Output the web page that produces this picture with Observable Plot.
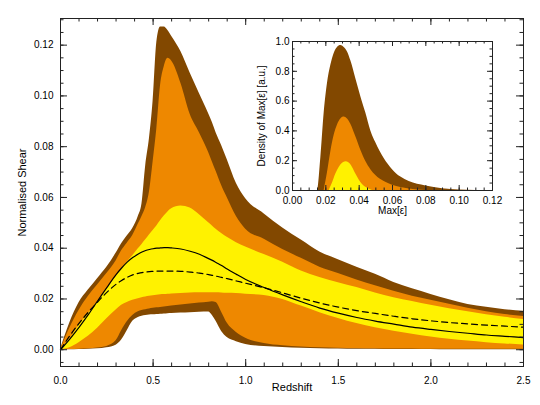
<!DOCTYPE html>
<html><head><meta charset="utf-8">
<script src="https://cdn.jsdelivr.net/npm/d3@7"></script>
<script src="https://cdn.jsdelivr.net/npm/@observablehq/plot@0.6"></script>
<style>
body{margin:0;background:#fff}
#wrap{position:relative;width:540px;height:405px}
#wrap svg{position:absolute;overflow:visible}
</style></head>
<body><div id="wrap"></div>
<script>
// ---- main panel data: redshift grid and band boundaries (normalised shear) ----
const redshift = [0,0.05,0.1,0.15,0.2,0.25,0.3,0.33,0.36,0.39,0.42,0.44,0.46,0.48,0.5,0.52,0.54,0.56,0.58,0.6,0.65,0.7,0.75,0.8,0.82,0.84,0.87,0.9,0.95,1.0,1.1,1.2,1.3,1.4,1.5,1.6,1.7,1.8,1.9,2.0,2.1,2.2,2.3,2.4,2.5];
const brownHi = [0,0.0105,0.0185,0.0235,0.028,0.0325,0.038,0.0418,0.0448,0.0478,0.0525,0.0575,0.0725,0.083,0.098,0.121,0.1272,0.1272,0.1258,0.1235,0.1175,0.109,0.101,0.093,0.0895,0.0855,0.0805,0.075,0.0655,0.0595,0.0535,0.048,0.0432,0.0385,0.0355,0.0325,0.0297,0.0265,0.024,0.0218,0.0197,0.0178,0.0167,0.0158,0.0152];
const orangeHi = [0,0.0085,0.0155,0.021,0.0255,0.030,0.035,0.039,0.042,0.045,0.0495,0.0525,0.056,0.062,0.074,0.087,0.104,0.1115,0.1148,0.1138,0.105,0.0928,0.0855,0.0777,0.074,0.0703,0.0647,0.060,0.0525,0.0475,0.0435,0.0395,0.036,0.0325,0.030,0.0275,0.0252,0.023,0.0211,0.0195,0.0179,0.0163,0.015,0.0139,0.0131];
const yellowHi = [0,0.0042,0.0095,0.0142,0.0188,0.0238,0.0288,0.0318,0.0345,0.037,0.0398,0.0415,0.0433,0.0452,0.047,0.0488,0.0508,0.0527,0.0543,0.0555,0.0566,0.0558,0.0532,0.050,0.0488,0.0475,0.0458,0.0443,0.0422,0.0405,0.0375,0.0345,0.031,0.0285,0.0264,0.0245,0.0224,0.0205,0.019,0.0175,0.0162,0.015,0.0138,0.0128,0.0119];
const yellowLo = [0,0.0008,0.0028,0.0053,0.0085,0.0122,0.0157,0.0175,0.0186,0.0195,0.0201,0.0205,0.0208,0.0211,0.0213,0.0215,0.0217,0.0218,0.0219,0.022,0.0222,0.0224,0.0225,0.0225,0.0225,0.0225,0.0224,0.0223,0.0222,0.0219,0.0214,0.0198,0.0172,0.0146,0.0123,0.0103,0.0087,0.0073,0.0061,0.005,0.0041,0.0034,0.0028,0.0023,0.0019];
const orangeLo = [0,0.0001,0.0002,0.0004,0.0007,0.0013,0.0035,0.0075,0.011,0.0135,0.015,0.0155,0.0158,0.0161,0.0163,0.0165,0.0166,0.0168,0.017,0.0172,0.0176,0.018,0.0184,0.0187,0.0189,0.0186,0.0148,0.0105,0.0068,0.0045,0.0025,0.0016,0.0011,0.0008,0.0006,0.0005,0.0004,0.0003,0.0003,0.0002,0.0002,0.0002,0.0002,0.0002,0.0002];
const brownLo = [0,0,0.0001,0.0002,0.0004,0.0008,0.0018,0.0038,0.0075,0.0112,0.0127,0.0132,0.0135,0.0137,0.0138,0.0139,0.014,0.0141,0.0142,0.0143,0.0145,0.0146,0.0148,0.0149,0.0135,0.0112,0.0072,0.0048,0.0032,0.0021,0.0013,0.0009,0.0006,0.0004,0.0003,0.0002,0.0002,0.0001,0.0001,0.0001,0,0,0,0,0];
const solidLine = [0,0.0042,0.0088,0.0138,0.0192,0.0245,0.0296,0.0322,0.0345,0.0363,0.0377,0.0385,0.0391,0.0395,0.0398,0.04,0.0401,0.0402,0.0402,0.0401,0.0397,0.0388,0.0376,0.0359,0.0352,0.0344,0.0332,0.0318,0.0297,0.0277,0.0245,0.0216,0.0189,0.0164,0.0144,0.0127,0.0113,0.0101,0.0089,0.008,0.0072,0.0065,0.0058,0.0053,0.0048];
const dashedLine = [0,0.0055,0.0104,0.0148,0.0188,0.0226,0.0258,0.0273,0.0285,0.0295,0.0301,0.0304,0.0306,0.0308,0.0309,0.031,0.031,0.031,0.031,0.031,0.0309,0.0306,0.0302,0.0296,0.0293,0.029,0.0285,0.028,0.0271,0.0262,0.0244,0.0224,0.0203,0.0184,0.0168,0.0154,0.0143,0.0132,0.0122,0.0114,0.0107,0.0102,0.0097,0.0093,0.0089];
const xTicks = [0.0,0.5,1.0,1.5,2.0,2.5];
const yTicks = [0.00,0.02,0.04,0.06,0.08,0.10,0.12];

// ---- inset data: density of Max[eps] ----
const insetBrownX = [0.012,0.015,0.017,0.019,0.021,0.023,0.025,0.027,0.029,0.031,0.033,0.035,0.038,0.041,0.044,0.047,0.050,0.055,0.060,0.065,0.070,0.080,0.090,0.100,0.120];
const insetBrownY = [0,0,0.22,0.52,0.72,0.84,0.92,0.96,0.973,0.96,0.93,0.87,0.75,0.63,0.52,0.40,0.32,0.215,0.14,0.09,0.06,0.03,0.012,0.004,0];
const insetOrangeX = [0.019,0.021,0.023,0.025,0.027,0.029,0.031,0.033,0.035,0.038,0.041,0.044,0.047,0.050,0.055,0.060,0.065,0.070,0.080];
const insetOrangeY = [0,0.12,0.26,0.37,0.44,0.48,0.493,0.48,0.445,0.36,0.27,0.195,0.14,0.10,0.06,0.035,0.02,0.01,0];
const insetYellowX = [0.022,0.024,0.026,0.028,0.030,0.032,0.034,0.036,0.038,0.040,0.042,0.045,0.048];
const insetYellowY = [0,0.05,0.11,0.155,0.183,0.193,0.185,0.155,0.11,0.07,0.04,0.015,0];
const insetXTicks = [0.00,0.02,0.04,0.06,0.08,0.10,0.12];
const insetYTicks = [0.0,0.2,0.4,0.6,0.8,1.0];

const BROWN = "#824800", ORANGE = "#ee8800", YELLOW = "#fff200", INK = "#222";
const FONT = "'Liberation Sans', Arial, Helvetica, sans-serif";

const rows = redshift.map((z, i) => ({z, bLo: brownLo[i], bHi: brownHi[i], oLo: orangeLo[i], oHi: orangeHi[i], yLo: yellowLo[i], yHi: yellowHi[i], s: solidLine[i], d: dashedLine[i]}));
const crv = "monotone-x";

// inward IDL-style ticks on all four sides, drawn as short rules inside the frame
function boxTicks(xs, ys, fw, fh, len) {
  return [
    Plot.ruleX(xs, {x: d => d, insetTop: fh - len, stroke: INK}),
    Plot.ruleX(xs, {x: d => d, insetBottom: fh - len, stroke: INK}),
    Plot.ruleY(ys, {y: d => d, insetRight: fw - len, stroke: INK}),
    Plot.ruleY(ys, {y: d => d, insetLeft: fw - len, stroke: INK})
  ];
}

const W = 540, H = 405, ML = 60, MR = 17, MT = 18, MB = 39;
const FW = W - ML - MR, FH = H - MT - MB;
const xMinor = d3.range(0, 2.5001, 0.1);
const yMinor = d3.range(-0.005, 0.1301, 0.005);

const main = Plot.plot({
  width: W, height: H,
  marginLeft: ML, marginRight: MR, marginTop: MT, marginBottom: MB,
  style: {fontFamily: FONT, fontSize: "10px", background: "transparent", color: "#000"},
  x: {domain: [0, 2.5], axis: null},
  y: {domain: [-0.0066, 0.1305], axis: null},
  marks: [
    Plot.areaY(rows, {x: "z", y1: "bLo", y2: "bHi", fill: BROWN, curve: crv}),
    Plot.areaY(rows, {x: "z", y1: "oLo", y2: "oHi", fill: ORANGE, curve: crv}),
    Plot.areaY(rows, {x: "z", y1: "yLo", y2: "yHi", fill: YELLOW, curve: crv}),
    Plot.line(rows, {x: "z", y: "s", stroke: "#000", strokeWidth: 1.2, curve: crv}),
    Plot.line(rows, {x: "z", y: "d", stroke: "#000", strokeWidth: 1.2, strokeDasharray: "6,4", curve: crv}),
    ...boxTicks(xTicks, yTicks, FW, FH, 7),
    ...boxTicks(xMinor, yMinor, FW, FH, 3.5),
    Plot.frame({stroke: INK, strokeWidth: 1}),
    Plot.axisX(xTicks, {anchor: "bottom", tickSize: 0, tickPadding: 10, label: null, tickFormat: d3.format(".1f"), fill: "#000"}),
    Plot.axisY(yTicks, {anchor: "left", tickSize: 0, tickPadding: 7, label: null, tickFormat: d3.format(".2f"), fill: "#000"}),
    Plot.text(["Redshift"], {frameAnchor: "bottom", dy: 24, fontSize: 11, fill: "#000", textAnchor: "middle"}),
    Plot.text(["Normalised Shear"], {frameAnchor: "left", dx: -38, rotate: -90, fontSize: 11, fill: "#000", textAnchor: "middle"})
  ]
});
main.style.left = "0px"; main.style.top = "0px";
document.getElementById("wrap").appendChild(main);

const IW = 248, IH = 185, IML = 40, IMR = 8, IMT = 6, IMB = 30;
const IFW = IW - IML - IMR, IFH = IH - IMT - IMB;
const insetXMinor = d3.range(0, 0.12001, 0.005);
const insetYMinor = d3.range(0, 1.0001, 0.05);
const inB = insetBrownX.map((x, i) => ({x, y: insetBrownY[i]}));
const inO = insetOrangeX.map((x, i) => ({x, y: insetOrangeY[i]}));
const inY = insetYellowX.map((x, i) => ({x, y: insetYellowY[i]}));

const inset = Plot.plot({
  width: IW, height: IH,
  marginLeft: IML, marginRight: IMR, marginTop: IMT, marginBottom: IMB,
  style: {fontFamily: FONT, fontSize: "10px", background: "transparent", color: "#000"},
  x: {domain: [0, 0.12], axis: null},
  y: {domain: [0, 1.0], axis: null},
  marks: [
    Plot.frame({fill: "white"}),
    Plot.areaY(inB, {x: "x", y: "y", fill: BROWN, curve: crv}),
    Plot.areaY(inO, {x: "x", y: "y", fill: ORANGE, curve: crv}),
    Plot.areaY(inY, {x: "x", y: "y", fill: YELLOW, curve: crv}),
    ...boxTicks(insetXTicks, insetYTicks, IFW, IFH, 5),
    ...boxTicks(insetXMinor, insetYMinor, IFW, IFH, 2.5),
    Plot.frame({stroke: INK, strokeWidth: 1}),
    Plot.axisX(insetXTicks, {anchor: "bottom", tickSize: 0, tickPadding: 6, label: null, tickFormat: d3.format(".2f"), fill: "#000"}),
    Plot.axisY(insetYTicks, {anchor: "left", tickSize: 0, tickPadding: 3, label: null, tickFormat: d3.format(".1f"), fill: "#000"}),
    Plot.text(["Max[ε]"], {frameAnchor: "bottom", dy: 23, fontSize: 10, fill: "#000", textAnchor: "middle"}),
    Plot.text(["Density of Max[ε] [a.u.]"], {frameAnchor: "left", dx: -31, rotate: -90, fontSize: 10, fill: "#000", textAnchor: "middle"})
  ]
});
inset.style.left = "252px"; inset.style.top = "35px";
document.getElementById("wrap").appendChild(inset);
</script>
</body></html>
